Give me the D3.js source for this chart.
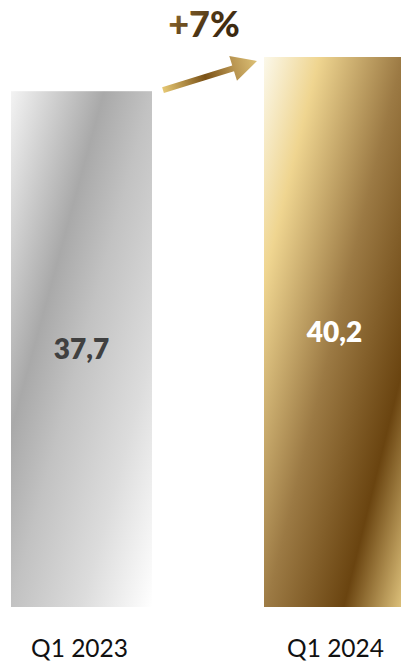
<!DOCTYPE html>
<html><head><meta charset="utf-8">
<script src="https://cdn.jsdelivr.net/npm/d3@7"></script>
<style>html,body{margin:0;padding:0;background:#fff;overflow:hidden}</style>
</head><body>
<script>
const categories = ["Q1 2023", "Q1 2024"];
const values = [37.7, 40.2];
const valueLabels = ["37,7", "40,2"];
const changeLabel = "+7%";

const W = 401, H = 664;
const svg = d3.select("body").append("svg").attr("width", W).attr("height", H);
const defs = svg.append("defs");

const x = d3.scaleBand().domain(categories).range([11, 405]).paddingInner(112 / 253).paddingOuter(0);
const y = d3.scaleLinear().domain([0, d3.max(values)]).range([607, 57]);
const bw = x.bandwidth();

const gradSpecs = [
  { dir: [0.965, 0.264], stops: [[0, "#f3f3f3"], [0.33, "#a9a9a9"], [0.5, "#c2c2c2"], [0.75, "#dcdcdc"], [1, "#ffffff"]] },
  { dir: [0.97, 0.24], stops: [[0, "#fbf8ea"], [0.2, "#efd590"], [0.5, "#9c7a44"], [0.78, "#6a4410"], [1, "#e3c780"]] }
];

categories.forEach((c, i) => {
  const x0 = x(c), top = y(values[i]), h = y(0) - top;
  const [dx, dy] = gradSpecs[i].dir;
  const L = bw * dx + h * dy;
  const g = defs.append("linearGradient").attr("id", "bar" + i)
    .attr("gradientUnits", "userSpaceOnUse")
    .attr("x1", x0).attr("y1", top).attr("x2", x0 + L * dx).attr("y2", top + L * dy);
  gradSpecs[i].stops.forEach(s => g.append("stop").attr("offset", s[0]).attr("stop-color", s[1]));
});

svg.selectAll("rect.bar").data(values).join("rect").attr("class", "bar")
  .attr("x", (d, i) => x(categories[i]))
  .attr("y", d => y(d))
  .attr("width", bw)
  .attr("height", d => y(0) - y(d))
  .attr("fill", (d, i) => `url(#bar${i})`);

svg.selectAll("text.val").data(values).join("text").attr("class", "val")
  .attr("x", (d, i) => x(categories[i]) + bw / 2)
  .attr("y", d => (y(d) + y(0)) / 2)
  .attr("dy", "0.36em")
  .attr("text-anchor", "middle")
  .attr("font-family", "Lato, sans-serif").attr("font-weight", 800).attr("font-size", 28)
  .attr("fill", (d, i) => i === 0 ? "#404040" : "#ffffff")
  .text((d, i) => valueLabels[i]);

const axis = svg.append("g").attr("transform", `translate(0,${y(0)})`)
  .call(d3.axisBottom(x).tickSize(0).tickPadding(33));
axis.select(".domain").remove();
axis.selectAll("text").attr("font-family", "Lato, sans-serif").attr("font-size", 24.5).attr("fill", "#111")
  .attr("dx", (d, i) => i === 0 ? -2 : 1);

// growth arrow
const tail = [x(categories[0]) + bw + 11, y(values[0]) - 1];
const tip = [x(categories[1]) - 7, y(values[1]) + 4];
const len = Math.hypot(tip[0] - tail[0], tip[1] - tail[1]);
const ang = Math.atan2(tip[1] - tail[1], tip[0] - tail[0]) * 180 / Math.PI;
const ag = defs.append("linearGradient").attr("id", "arrowGrad")
  .attr("gradientUnits", "userSpaceOnUse")
  .attr("x1", 0).attr("y1", 0).attr("x2", len).attr("y2", 0);
[[0, "#e6c874"], [0.45, "#7a5116"], [0.75, "#b89450"], [1, "#dcc076"]].forEach(s => ag.append("stop").attr("offset", s[0]).attr("stop-color", s[1]));
const hl = 25, hw = 13, sw = 3;
svg.append("path")
  .attr("transform", `translate(${tail[0]},${tail[1]}) rotate(${ang})`)
  .attr("d", `M0,${-sw}L${len - hl},${-sw}L${len - hl},${-hw}L${len},0L${len - hl},${hw}L${len - hl},${sw}L0,${sw}Z`)
  .attr("fill", "url(#arrowGrad)");

const tg = defs.append("linearGradient").attr("id", "txtGrad")
  .attr("x1", 0).attr("y1", 0).attr("x2", 1).attr("y2", 0.6);
[[0, "#a8843f"], [0.3, "#7c5a26"], [0.65, "#4a3214"], [1, "#3a2810"]].forEach(s => tg.append("stop").attr("offset", s[0]).attr("stop-color", s[1]));
svg.append("text")
  .attr("x", (tail[0] + tip[0]) / 2 - 6)
  .attr("y", tip[1] - 24)
  .attr("text-anchor", "middle")
  .attr("font-family", "Lato, sans-serif").attr("font-weight", 900).attr("font-size", 36)
  .attr("fill", "url(#txtGrad)")
  .text(changeLabel);
</script>
</body></html>
